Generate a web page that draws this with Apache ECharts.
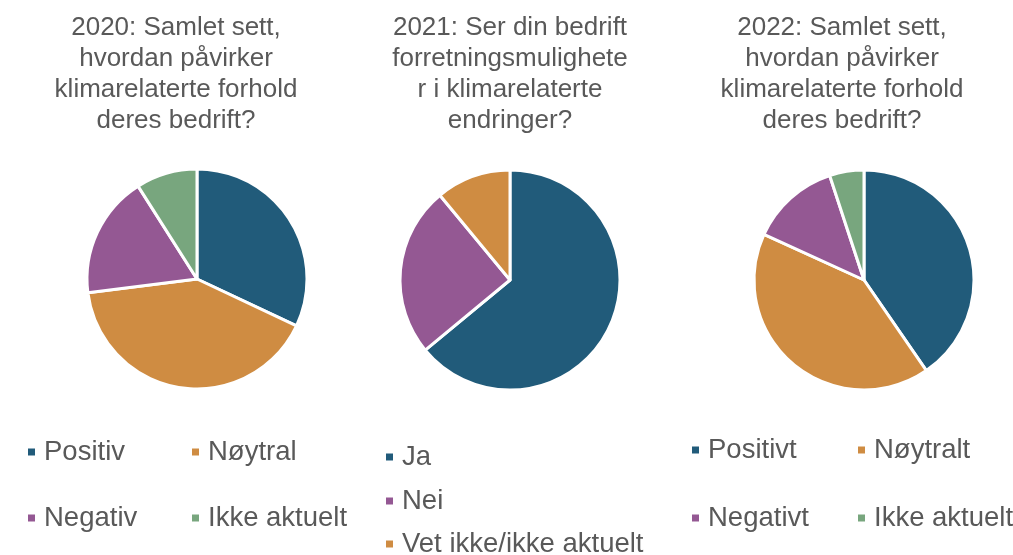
<!DOCTYPE html>
<html>
<head>
<meta charset="utf-8">
<script src="https://cdn.jsdelivr.net/npm/echarts@6/dist/echarts.min.js"></script>
<style>
  html, body { margin: 0; padding: 0; background: #fff; }
  #chart { width: 1013px; height: 555px; }
</style>
</head>
<body>
<div id="chart"></div>
<script>
// data
var titles = [
  "2020: Samlet sett,\nhvordan påvirker\nklimarelaterte forhold\nderes bedrift?",
  "2021: Ser din bedrift\nforretningsmulighete\nr i klimarelaterte\nendringer?",
  "2022: Samlet sett,\nhvordan påvirker\nklimarelaterte forhold\nderes bedrift?"
];
var names2020 = ["Positiv", "Nøytral", "Negativ", "Ikke aktuelt"];
var values2020 = [32, 41, 18, 9];
var names2021 = ["Ja", "Nei", "Vet ikke/ikke aktuelt"];
var values2021 = [64, 25, 11];
var names2022 = ["Positivt", "Nøytralt", "Negativt", "Ikke aktuelt "];
var values2022 = [40, 41, 13, 5];

var blue = "#215b7a", orange = "#cf8c42", purple = "#945893", green = "#78a67e";
var colors2020 = [blue, orange, purple, green];
var colors2021 = [blue, purple, orange];
var colors2022 = [blue, orange, purple, green];

var font = "'Liberation Sans', Arial, sans-serif";
var textColor = "#595959";

const chart = echarts.init(document.getElementById("chart"));

function toData(names, values, colors) {
  return names.map(function (n, i) {
    return { name: n, value: values[i], itemStyle: { color: colors[i] } };
  });
}

function pie(center, names, values, colors) {
  return {
    type: "pie",
    center: center,
    radius: 110,
    startAngle: 90,
    clockwise: true,
    label: { show: false },
    labelLine: { show: false },
    emphasis: { disabled: true },
    itemStyle: { borderColor: "#fff", borderWidth: 3 },
    data: toData(names, values, colors)
  };
}

// one legend block; gap = space between rows
function legend(left, top, data, gap) {
  return {
    orient: "vertical",
    left: left,
    top: top,
    padding: 0,
    itemGap: gap,
    itemWidth: 9,
    itemHeight: 9,
    icon: "rect",
    selectedMode: false,
    data: data,
    textStyle: {
      fontFamily: font,
      fontSize: 27.5,
      lineHeight: 28,
      color: textColor,
      padding: [0, 0, 0, 3]
    }
  };
}

function title(text, center) {
  return {
    text: text,
    left: center,
    top: 12,
    padding: 0,
    textAlign: "center",
    textStyle: {
      fontFamily: font,
      fontSize: 26,
      lineHeight: 31,
      fontWeight: "normal",
      color: textColor
    }
  };
}

var option = {
  backgroundColor: "#fff",
  animation: false,
  title: [
    title(titles[0], 176),
    title(titles[1], 510),
    title(titles[2], 842)
  ],
  legend: [
    legend(26, 438, [names2020[0], names2020[2]], 38),
    legend(190, 438, [names2020[1], names2020[3]], 38),
    // middle legend split per row so it never wraps at the bottom edge
    legend(384, 443, [names2021[0]], 0),
    legend(384, 487, [names2021[1]], 0),
    legend(384, 530, [names2021[2]], 0),
    legend(690, 436, [names2022[0], names2022[2]], 40),
    legend(856, 436, [names2022[1], names2022[3]], 40)
  ],
  series: [
    pie([197, 279], names2020, values2020, colors2020),
    pie([510, 280], names2021, values2021, colors2021),
    pie([864, 280], names2022, values2022, colors2022)
  ]
};

chart.setOption(option);
window.addEventListener("resize", function () {
  chart.resize();
});
</script>
</body>
</html>
